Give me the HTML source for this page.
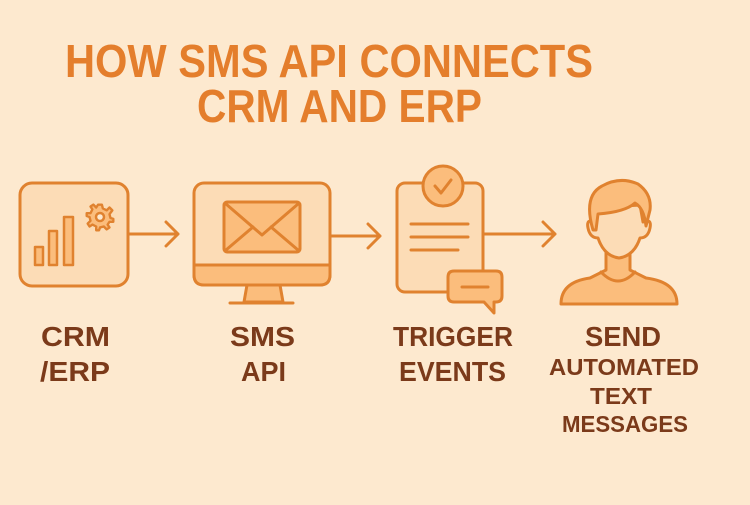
<!DOCTYPE html>
<html><head><style>html,body{margin:0;padding:0;background:#fde9cf}</style></head><body>
<svg width="750" height="500" viewBox="0 0 750 500" xmlns="http://www.w3.org/2000/svg" font-family="Liberation Sans, sans-serif" font-weight="bold">
<rect width="750" height="500" fill="#fde9cf"/>
<g fill="#e47e2c">
<text x="65" y="77" font-size="46" textLength="528" lengthAdjust="spacingAndGlyphs">HOW SMS API CONNECTS</text>
<text x="197" y="122" font-size="46" textLength="285" lengthAdjust="spacingAndGlyphs">CRM AND ERP</text>
</g>
<g stroke="#e0822f" stroke-width="3" stroke-linejoin="round" stroke-linecap="round">
<rect x="20" y="183" width="108" height="103" rx="12" fill="#fcdcb6"/>
<rect x="35" y="247" width="8" height="18" fill="#fbbd7c" stroke-width="2.5"/>
<rect x="49" y="231" width="8" height="34" fill="#fbbd7c" stroke-width="2.5"/>
<rect x="64" y="217" width="9" height="48" fill="#fbbd7c" stroke-width="2.5"/>
<g transform="translate(100,217)" stroke-width="2.5" fill="#fbbd7c">
<path d="M-2,-13 L2,-13 L3,-9 L7,-7 L10,-10 L13,-7 L10,-3 L11,1 L14,2 L14,5 L10,5 L8,8 L10,11 L7,13 L4,10 L0,11 L-1,14 L-4,14 L-4,10 L-8,8 L-11,10 L-13,7 L-10,4 L-11,0 L-14,-1 L-14,-4 L-10,-4 L-8,-8 L-10,-11 L-7,-13 L-4,-10 Z" transform="scale(0.95)"/>
<circle r="4" fill="#fde9cf"/>
</g>
<path d="M128,234 H178 M166,222 L178,234 L166,246" fill="none"/>
<path d="M247,285 L280,285 L283,302 L244,302 Z" fill="#fbbd7c"/>
<path d="M230,303 H293" fill="none"/>
<rect x="194" y="183" width="136" height="102" rx="10" fill="#fcdcb6"/>
<path d="M194,265 H330 V275 Q330,285 320,285 H204 Q194,285 194,275 Z" fill="#fbbd7c"/>
<rect x="224" y="202" width="76" height="50" rx="3" fill="#fbbd7c"/>
<path d="M226,204 L262,235 L298,204 M226,250 L253,227 M298,250 L271,227" fill="none"/>
<path d="M330,236 H380 M368,224 L380,236 L368,248" fill="none"/>
<rect x="397" y="183" width="86" height="109" rx="8" fill="#fcdcb6"/>
<circle cx="443" cy="186" r="20" fill="#fbbd7c"/>
<path d="M435,186 L441,193 L451,180" fill="none"/>
<path d="M411,224 H468 M411,237 H468 M411,250 H458" fill="none"/>
<path d="M454,271 H496 Q502,271 502,277 V296 Q502,302 496,302 L494,302 L494,313 L484,302 H454 Q448,302 448,296 V277 Q448,271 454,271 Z" fill="#fbbd7c"/>
<path d="M462,287 H488" fill="none"/>
<path d="M483,234 H555 M543,222 L555,234 L543,246" fill="none"/>
<!-- person -->
<path d="M561,304 Q561,282 590,278 L606,270 V250 L630,250 V270 L646,278 Q677,282 677,304 Z" fill="#fbbd7c"/>
<path d="M601,272 Q618,290 635,272" fill="none"/>
<path d="M595,222 Q586,218 588,228 Q590,238 598,238 Q604,256 619,258 Q634,256 640,238 Q648,238 650,228 Q652,218 643,222 L640,205 L596,208 Z" fill="#fcdcb6"/>
<path d="M593,230 Q583,196 602,186 Q620,176 638,184 Q652,194 650,210 L646,226 Q644,208 635,203 Q625,212 598,214 L596,230 Z" fill="#fbbd7c"/>
</g>
<g fill="#7b3a1a">
<text x="41" y="346" font-size="28" textLength="69" lengthAdjust="spacingAndGlyphs">CRM</text>
<text x="40" y="381" font-size="28" textLength="70" lengthAdjust="spacingAndGlyphs">/ERP</text>
<text x="230" y="346" font-size="28" textLength="65" lengthAdjust="spacingAndGlyphs">SMS</text>
<text x="241" y="381" font-size="28" textLength="45" lengthAdjust="spacingAndGlyphs">API</text>
<text x="393" y="346" font-size="28" textLength="120" lengthAdjust="spacingAndGlyphs">TRIGGER</text>
<text x="399" y="381" font-size="28" textLength="107" lengthAdjust="spacingAndGlyphs">EVENTS</text>
<text x="585" y="346" font-size="28" textLength="76" lengthAdjust="spacingAndGlyphs">SEND</text>
<text x="549" y="375" font-size="23" textLength="150" lengthAdjust="spacingAndGlyphs">AUTOMATED</text>
<text x="590" y="404" font-size="23" textLength="62" lengthAdjust="spacingAndGlyphs">TEXT</text>
<text x="562" y="432" font-size="23" textLength="126" lengthAdjust="spacingAndGlyphs">MESSAGES</text>
</g>
</svg>
</body></html>
